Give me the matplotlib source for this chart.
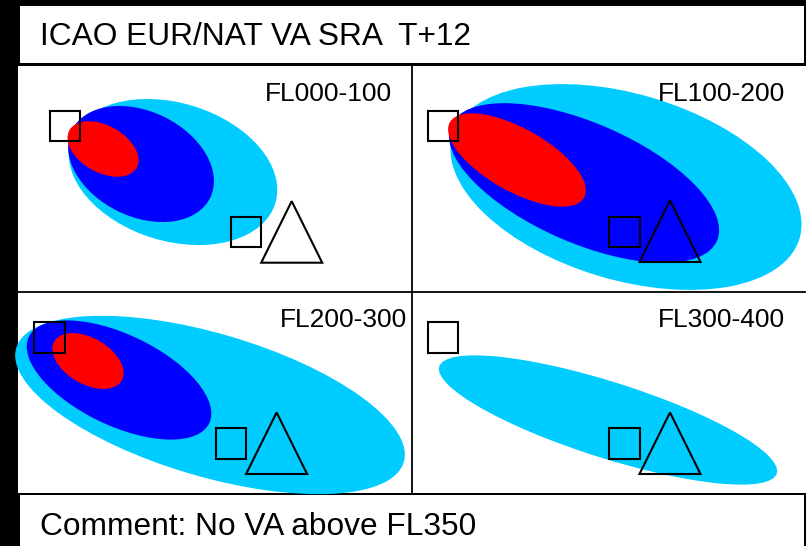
import matplotlib
matplotlib.use("Agg")
import matplotlib.pyplot as plt
from matplotlib.patches import Ellipse, Rectangle, Polygon

plt.rcParams['font.family'] = ['Liberation Sans', 'DejaVu Sans']

TITLE = "ICAO EUR/NAT VA SRA  T+12"
COMMENT = "Comment: No VA above FL350"
PANEL_LABELS = ["FL000-100", "FL100-200", "FL200-300", "FL300-400"]

# ash concentration areas per panel (panel pixel units): centre, width, height, tilt
CYAN_CENTERS = [(155, 106), (214, 121), (192, 113), (196, 128)]
CYAN_SIZES = [(214, 138), (362, 186), (404, 143), (354, 76)]
CYAN_ANGLES = [17, 16.5, 16.4, 17.6]

BLUE_CENTERS = [(123, 98), (172, 117), (101, 88), None]
BLUE_SIZES = [(154, 105), (290, 120), (200, 91), None]
BLUE_ANGLES = [26, 23.5, 25.6, None]

RED_CENTERS = [(85, 83), (105, 94), (70, 69), None]
RED_SIZES = [(77, 47), (154, 63), (78, 46), None]
RED_ANGLES = [29, 29.3, 30.2, None]

# volcano / station symbols
SQUARE_A = [(46.8, 59.8), (31, 60), (31.7, 45.7), (31, 45.7)]
SQUARE_B = [(228.2, 166), (212.3, 166.2), (213, 151.5), (212.3, 151.5)]
TRIANGLES = [(273.7, 196.7), (258, 196), (258.6, 182), (258, 182)]

W, H = 806, 546
fig = plt.figure(figsize=(W / 100, H / 100), dpi=100, facecolor='black')

frame = fig.add_axes([0, 0, 1, 1])
frame.set_xlim(0, W)
frame.set_ylim(H, 0)
frame.axis('off')

# white boxes on black background
frame.add_patch(Rectangle((20, 6), 784, 57.3, facecolor='white', edgecolor='none'))
frame.add_patch(Rectangle((18, 65.6), 788, 427.8, facecolor='white', edgecolor='none'))
frame.add_patch(Rectangle((20, 495.4), 784, 51, facecolor='white', edgecolor='none'))

frame.plot([412, 412], [65.6, 493.5], color='black', lw=1.3)
frame.plot([18, 805], [292, 292], color='black', lw=1.3)

frame.text(40, 45, TITLE, fontsize=22.8, ha='left', va='baseline', color='black')
frame.text(40, 535, COMMENT, fontsize=22.8, ha='left', va='baseline', color='black')

panels = [(18, 66, 394, 226), (412, 66, 394, 226), (18, 292, 394, 202), (412, 292, 394, 202)]
label_x = [374, 372.7, 389, 372.7]

SQ = 30.5
TRI_W, TRI_H = 61, 61.5

for i, (px, py, pw, ph) in enumerate(panels):
    ax = fig.add_axes([px / W, 1 - (py + ph) / H, pw / W, ph / H])
    ax.set_xlim(0, pw)
    ax.set_ylim(ph, 0)
    ax.axis('off')
    ax.patch.set_alpha(0)

    ax.add_patch(Ellipse(CYAN_CENTERS[i], CYAN_SIZES[i][0], CYAN_SIZES[i][1], angle=CYAN_ANGLES[i],
                         facecolor='#00CCFF', edgecolor='none', clip_on=False))
    if BLUE_CENTERS[i] is not None:
        ax.add_patch(Ellipse(BLUE_CENTERS[i], BLUE_SIZES[i][0], BLUE_SIZES[i][1], angle=BLUE_ANGLES[i],
                             facecolor='#0000FF', edgecolor='none', clip_on=False))
    if RED_CENTERS[i] is not None:
        ax.add_patch(Ellipse(RED_CENTERS[i], RED_SIZES[i][0], RED_SIZES[i][1], angle=RED_ANGLES[i],
                             facecolor='#FF0000', edgecolor='none', clip_on=False))

    for cx, cy in (SQUARE_A[i], SQUARE_B[i]):
        ax.add_patch(Rectangle((cx - SQ / 2, cy - SQ / 2), SQ, SQ, facecolor='none',
                               edgecolor='black', lw=1.5, clip_on=False))

    tx, ty = TRIANGLES[i]
    ax.add_patch(Polygon([(tx - TRI_W / 2, ty), (tx + TRI_W / 2, ty), (tx, ty - TRI_H)], closed=True,
                         facecolor='none', edgecolor='black', lw=1.5, clip_on=False))

    ax.text(label_x[i], 35.3, PANEL_LABELS[i], fontsize=19, ha='right', va='baseline', color='black')

fig.savefig('out.png', dpi=100, facecolor='black')
